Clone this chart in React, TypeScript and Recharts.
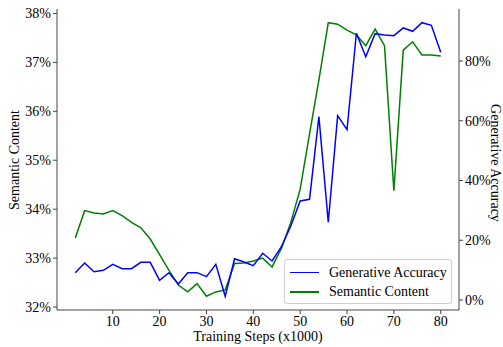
import { LineChart, Line, XAxis, YAxis, Legend, Label } from 'recharts';

const steps = [2, 4, 6, 8, 10, 12, 14, 16, 18, 20, 22, 24, 26, 28, 30, 32, 34, 36, 38, 40, 42, 44, 46, 48, 50, 52, 54, 56, 58, 60, 62, 64, 66, 68, 70, 72, 74, 76, 78, 80];

// left axis, percent
const semanticContent = [
  33.41, 33.97, 33.92, 33.9, 33.97, 33.87, 33.73, 33.62, 33.39, 33.07,
  32.75, 32.45, 32.31, 32.48, 32.22, 32.31, 32.35, 32.89, 32.9, 32.94,
  33.0, 32.82, 33.2, 33.73, 34.41, 35.54, 36.64, 37.81, 37.78, 37.66,
  37.56, 37.34, 37.68, 37.34, 34.38, 37.25, 37.42, 37.15, 37.15, 37.13,
];

// right axis, percent
const generativeAccuracy = [
  9.14, 12.38, 9.47, 9.94, 11.95, 10.48, 10.48, 12.62, 12.62, 6.59,
  9.14, 5.36, 9.14, 9.14, 7.8, 11.95, 1.24, 13.82, 12.72, 11.48,
  15.63, 13.05, 17.84, 24.77, 33.14, 33.71, 61.36, 26.01, 61.69, 57.0,
  89.27, 81.44, 89.14, 88.7, 88.47, 91.05, 89.94, 92.82, 91.95, 82.91,
];

const xTicks = [10, 20, 30, 40, 50, 60, 70, 80];
const leftTicks = [32, 33, 34, 35, 36, 37, 38];
const rightTicks = [0, 20, 40, 60, 80];

const data = steps.map((s, i) => ({
  step: s,
  semantic: semanticContent[i],
  generative: generativeAccuracy[i],
}));

const FONT = '"Liberation Serif", "Times New Roman", serif';
const FRAME = '#444';
const BLUE = '#0000ff';
const GREEN = '#008000';

const tickStyle = { fill: '#000', fontSize: 14, fontFamily: FONT };

function LegendBox() {
  const rows = [
    { name: 'Generative Accuracy', color: BLUE, cy: 12.5 },
    { name: 'Semantic Content', color: GREEN, cy: 32 },
  ];
  return (
    <div
      style={{
        position: 'relative',
        width: 168,
        height: 45,
        boxSizing: 'border-box',
        border: '1px solid #d0d0d0',
        borderRadius: 3,
        background: 'rgba(255,255,255,0.85)',
        fontFamily: FONT,
        fontSize: 14,
      }}
    >
      {rows.map((r) => (
        <div key={r.name}>
          <div
            style={{
              position: 'absolute',
              left: 5,
              top: r.cy - 1,
              width: 29,
              height: 1.5,
              background: r.color,
            }}
          />
          <div
            style={{
              position: 'absolute',
              left: 44,
              top: r.cy - 9,
              lineHeight: '18px',
              whiteSpace: 'nowrap',
              color: '#000',
            }}
          >
            {r.name}
          </div>
        </div>
      ))}
    </div>
  );
}

export default function App() {
  return (
    <div style={{ position: 'absolute', left: 0, top: 0, background: '#fff' }}>
      <LineChart width={503} height={347} data={data} margin={{ top: 9, right: 0, bottom: 0, left: 0 }}>
        <XAxis
          dataKey="step"
          type="number"
          domain={[-1.9, 83.9]}
          ticks={xTicks}
          tick={tickStyle}
          tickSize={4}
          tickMargin={2}
          height={37}
          stroke={FRAME}
          tickLine={{ stroke: FRAME }}
        >
          <Label
            value="Training Steps (x1000)"
            position="insideBottom"
            offset={6}
            style={{ fill: '#000', fontSize: 14, fontFamily: FONT }}
          />
        </XAxis>
        <XAxis
          xAxisId="top"
          orientation="top"
          dataKey="step"
          type="number"
          domain={[-1.9, 83.9]}
          height={0}
          tick={false}
          tickLine={false}
          stroke={FRAME}
        />
        <YAxis
          yAxisId="left"
          orientation="left"
          type="number"
          domain={[31.94, 38.09]}
          ticks={leftTicks}
          tickFormatter={(v) => `${v}%`}
          tick={tickStyle}
          tickSize={4}
          tickMargin={2}
          width={57}
          stroke={FRAME}
          allowDataOverflow
        >
          <Label
            content={() => (
              <text
                x={16}
                y={160}
                transform="rotate(-90 16 160)"
                textAnchor="middle"
                dominantBaseline="middle"
                style={{ fill: '#000', fontSize: 14, fontFamily: FONT }}
              >
                Semantic Content
              </text>
            )}
          />
        </YAxis>
        <YAxis
          yAxisId="right"
          orientation="right"
          type="number"
          domain={[-3.35, 97.4]}
          ticks={rightTicks}
          tickFormatter={(v) => `${v}%`}
          tick={tickStyle}
          tickSize={4}
          tickMargin={2}
          width={44}
          stroke={FRAME}
          allowDataOverflow
        >
          <Label
            content={() => (
              <text
                x={494}
                y={163}
                transform="rotate(90 494 163)"
                textAnchor="middle"
                dominantBaseline="middle"
                style={{ fill: '#000', fontSize: 14, fontFamily: FONT }}
              >
                Generative Accuracy
              </text>
            )}
          />
        </YAxis>
        <Line
          yAxisId="left"
          dataKey="semantic"
          name="Semantic Content"
          stroke={GREEN}
          strokeWidth={1.5}
          dot={false}
          isAnimationActive={false}
        />
        <Line
          yAxisId="right"
          dataKey="generative"
          name="Generative Accuracy"
          stroke={BLUE}
          strokeWidth={1.5}
          dot={false}
          isAnimationActive={false}
        />
        <Legend
          layout="horizontal"
          verticalAlign="middle"
          align="center"
          content={() => <LegendBox />}
          wrapperStyle={{ left: 284, top: 259, width: 168, height: 45 }}
        />
      </LineChart>
    </div>
  );
}
